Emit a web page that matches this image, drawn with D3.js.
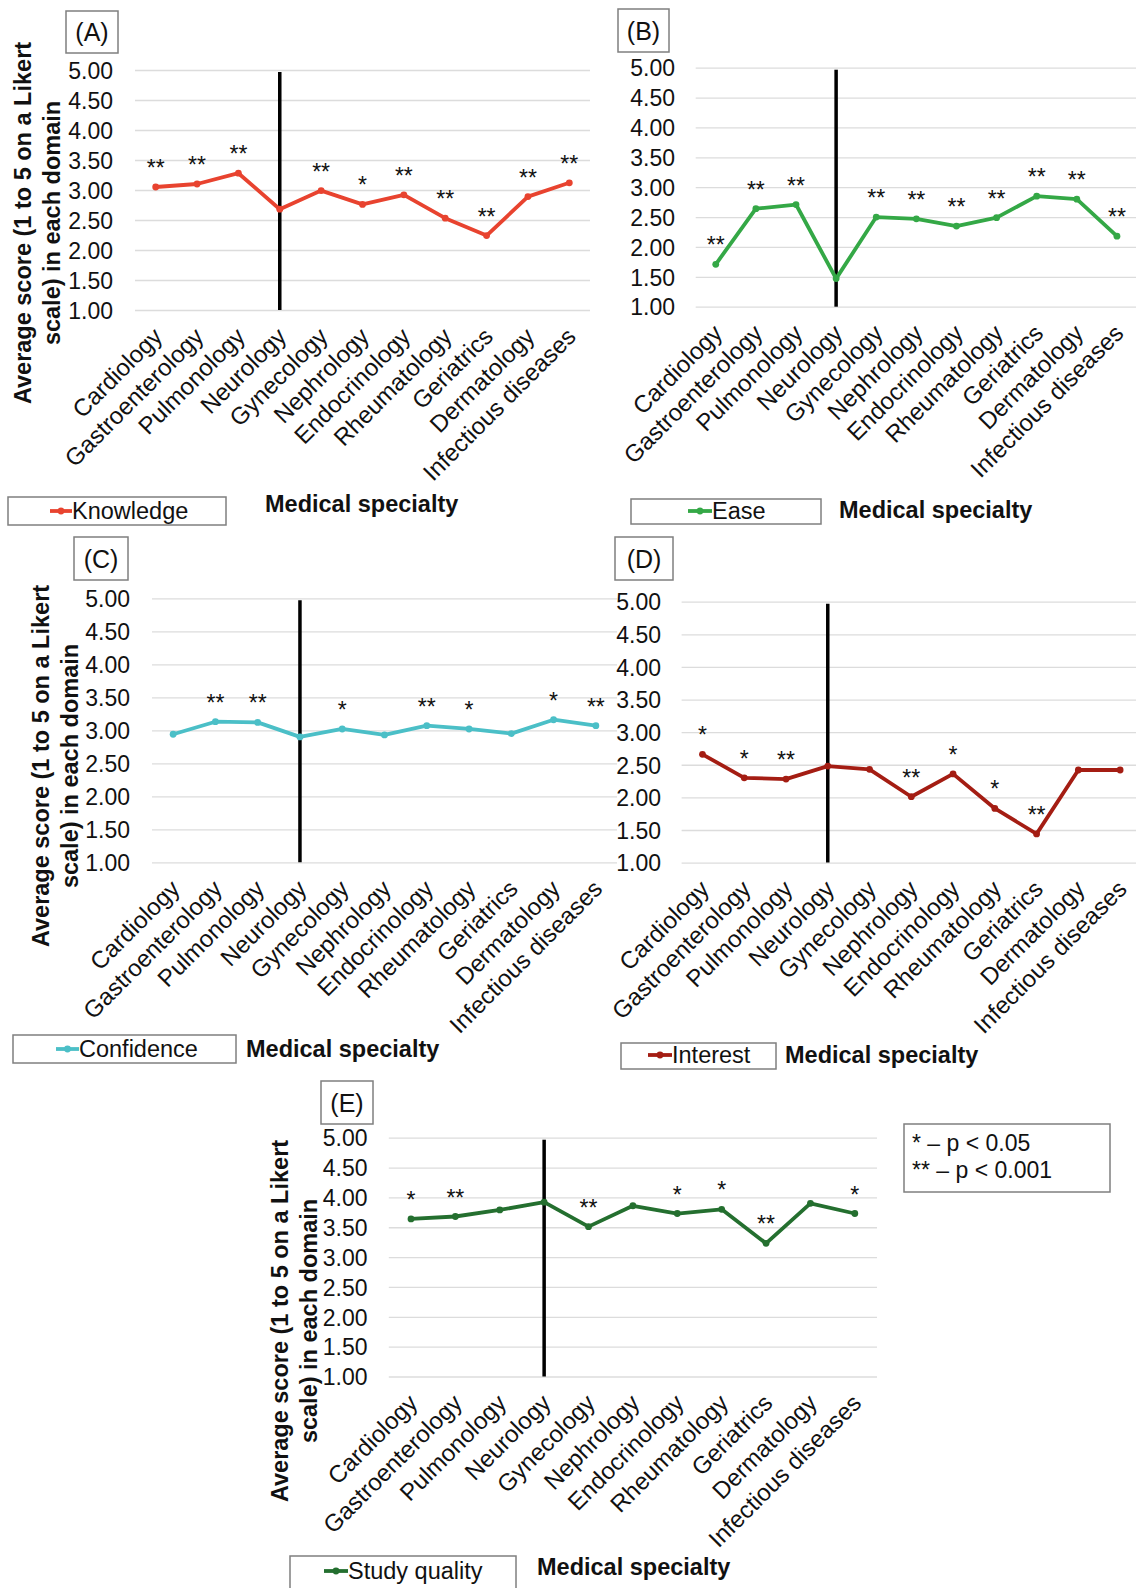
<!DOCTYPE html>
<html>
<head>
<meta charset="utf-8">
<script src="https://cdn.jsdelivr.net/npm/d3@7"></script>
<style>
  html, body { margin: 0; padding: 0; background: #fff; }
  svg { display: block; font-family: "Liberation Sans", Arial, sans-serif; }
</style>
</head>
<body>
<svg id="chart" width="1136" height="1588"></svg>
<script>
// Specialties on the x axis (same order in every panel)
const categories = ["Cardiology", "Gastroenterology", "Pulmonology", "Neurology", "Gynecology",
  "Nephrology", "Endocrinology", "Rheumatology", "Geriatrics", "Dermatology", "Infectious diseases"];

// Average Likert score per specialty, one array per domain
const knowledge    = [3.05, 3.10, 3.28, 2.68, 2.99, 2.76, 2.92, 2.53, 2.24, 2.89, 3.12];
const ease         = [1.71, 2.64, 2.71, 1.47, 2.50, 2.47, 2.35, 2.49, 2.85, 2.80, 2.18];
const confidence   = [2.94, 3.13, 3.12, 2.90, 3.02, 2.93, 3.07, 3.02, 2.95, 3.16, 3.07];
const interest     = [2.66, 2.30, 2.28, 2.48, 2.43, 2.01, 2.36, 1.83, 1.44, 2.42, 2.42];
const studyQuality = [3.64, 3.68, 3.79, 3.92, 3.51, 3.86, 3.73, 3.80, 3.23, 3.90, 3.73];

// Significance markers versus Neurology (the reference specialty)
const knowledgeSig    = ["**", "**", "**", "", "**", "*", "**", "**", "**", "**", "**"];
const easeSig         = ["**", "**", "**", "", "**", "**", "**", "**", "**", "**", "**"];
const confidenceSig   = ["", "**", "**", "", "*", "", "**", "*", "", "*", "**"];
const interestSig     = ["*", "*", "**", "", "", "**", "*", "*", "**", "", ""];
const studyQualitySig = ["*", "**", "", "", "**", "", "*", "*", "**", "", "*"];

const yTicks = [1.0, 1.5, 2.0, 2.5, 3.0, 3.5, 4.0, 4.5, 5.0];
const referenceCategory = "Neurology";

const yTitleLines = ["Average score (1 to 5 on a Likert", "scale) in each domain"];
const xTitle = "Medical specialty";
const sigLegend = ["* \u2013 p < 0.05", "** \u2013 p < 0.001"];

// Panel layout
const panels = [
  { tag: "(A)", name: "Knowledge", values: knowledge, sig: knowledgeSig, color: "#e8432f",
    left: 135, right: 590, top: 70, bottom: 310, tickRight: 113,
    box: [66, 11, 52, 42],
    yTitle: { x1: 23, x2: 52, cy: 223 },
    legend: { x: 8, y: 497, w: 218, h: 28, lx: 50, tx: 72, ty: 519 },
    xt: { x: 265, y: 512 } },
  { tag: "(B)", name: "Ease", values: ease, sig: easeSig, color: "#34a846",
    left: 695.7, right: 1137, top: 67.7, bottom: 306.7, tickRight: 675,
    box: [618, 9, 51, 43],
    yTitle: null,
    legend: { x: 631, y: 499, w: 190, h: 25, lx: 688, tx: 712, ty: 519 },
    xt: { x: 839, y: 518 } },
  { tag: "(C)", name: "Confidence", values: confidence, sig: confidenceSig, color: "#4bbfc7",
    left: 152, right: 617, top: 598.3, bottom: 862.3, tickRight: 130,
    box: [74, 537, 54, 43],
    yTitle: { x1: 41, x2: 70, cy: 766 },
    legend: { x: 13, y: 1035, w: 223, h: 28, lx: 56, tx: 79, ty: 1057 },
    xt: { x: 246, y: 1057 } },
  { tag: "(D)", name: "Interest", values: interest, sig: interestSig, color: "#a41d13",
    left: 681.6, right: 1141, top: 601.7, bottom: 862.6, tickRight: 661,
    box: [615, 537, 58, 43],
    yTitle: null,
    legend: { x: 621, y: 1043, w: 155, h: 26, lx: 648, tx: 672, ty: 1063 },
    xt: { x: 785, y: 1063 } },
  { tag: "(E)", name: "Study quality", values: studyQuality, sig: studyQualitySig, color: "#246f2f",
    left: 388.8, right: 877, top: 1137.7, bottom: 1376.5, tickRight: 367.5,
    box: [321, 1081, 52, 43],
    yTitle: { x1: 280, x2: 309, cy: 1321 },
    legend: { x: 290, y: 1556, w: 226, h: 40, lx: 324, tx: 348, ty: 1579 },
    xt: { x: 537, y: 1575 } }
];

const svg = d3.select("#chart");
svg.append("rect").attr("width", 1136).attr("height", 1588).attr("fill", "#fff");

panels.forEach(p => {
  const g = svg.append("g");
  const x = d3.scaleBand().domain(categories).range([p.left, p.right]).padding(0);
  const y = d3.scaleLinear().domain([1, 5]).range([p.bottom, p.top]);
  const cx = c => x(c) + x.bandwidth() / 2;

  // Horizontal gridlines with tick labels
  const yAxis = g.append("g")
    .attr("transform", `translate(${p.left},0)`)
    .call(d3.axisLeft(y).tickValues(yTicks).tickFormat(d3.format(".2f"))
      .tickSize(-(p.right - p.left)).tickPadding(p.left - p.tickRight));
  yAxis.select(".domain").remove();
  yAxis.selectAll(".tick line").attr("stroke", "#dcdcdc").attr("stroke-width", 1.3);
  yAxis.selectAll(".tick text").attr("font-size", 23).attr("fill", "#111")
    .attr("font-family", "'Liberation Sans', Arial, sans-serif").attr("dy", "0.36em");

  // Category labels, rotated
  const xAxis = g.append("g")
    .attr("transform", `translate(0,${p.bottom})`)
    .call(d3.axisBottom(x).tickSize(0));
  xAxis.select(".domain").remove();
  xAxis.selectAll(".tick text")
    .attr("font-size", 24).attr("fill", "#111")
    .attr("font-family", "'Liberation Sans', Arial, sans-serif")
    .attr("x", 0).attr("y", 0).attr("dy", 0)
    .attr("text-anchor", "end")
    .attr("transform", "translate(8,28) rotate(-45)");

  // Reference divider at Neurology
  g.append("line")
    .attr("x1", cx(referenceCategory)).attr("x2", cx(referenceCategory))
    .attr("y1", y(5) + 2).attr("y2", y(1))
    .attr("stroke", "#000").attr("stroke-width", 3.5);

  // Series line and markers
  const pts = categories.map((c, i) => ({ c, v: p.values[i], s: p.sig[i] }));
  g.append("path").datum(pts)
    .attr("fill", "none").attr("stroke", p.color).attr("stroke-width", 3.8)
    .attr("stroke-linejoin", "round")
    .attr("d", d3.line().x(d => cx(d.c)).y(d => y(d.v)));
  g.selectAll("circle.pt").data(pts).join("circle").attr("class", "pt")
    .attr("cx", d => cx(d.c)).attr("cy", d => y(d.v)).attr("r", 3.4).attr("fill", p.color);

  // Significance asterisks above each point
  g.selectAll("text.sig").data(pts.filter(d => d.s)).join("text").attr("class", "sig")
    .attr("x", d => cx(d.c)).attr("y", d => y(d.v) - 11)
    .attr("text-anchor", "middle").attr("font-size", 23).attr("fill", "#111")
    .text(d => d.s);

  // Panel tag box
  g.append("rect").attr("x", p.box[0]).attr("y", p.box[1]).attr("width", p.box[2]).attr("height", p.box[3])
    .attr("fill", "#fff").attr("stroke", "#7f7f7f").attr("stroke-width", 1.5);
  g.append("text").attr("x", p.box[0] + p.box[2] / 2).attr("y", p.box[1] + p.box[3] / 2)
    .attr("dy", "0.36em").attr("text-anchor", "middle").attr("font-size", 25).attr("fill", "#111")
    .text(p.tag);

  // Y axis title
  if (p.yTitle) {
    [p.yTitle.x1, p.yTitle.x2].forEach((lx, i) => {
      g.append("text")
        .attr("transform", `translate(${lx},${p.yTitle.cy}) rotate(-90)`)
        .attr("text-anchor", "middle").attr("dy", "0.36em")
        .attr("font-size", 23.5).attr("font-weight", "bold").attr("fill", "#111")
        .text(yTitleLines[i]);
    });
  }

  // Legend box
  const L = p.legend;
  g.append("rect").attr("x", L.x).attr("y", L.y).attr("width", L.w).attr("height", L.h)
    .attr("fill", "#fff").attr("stroke", "#7f7f7f").attr("stroke-width", 1.5);
  const ly = L.ty - 8;
  g.append("line").attr("x1", L.lx).attr("x2", L.tx).attr("y1", ly).attr("y2", ly)
    .attr("stroke", p.color).attr("stroke-width", 3.8);
  g.append("circle").attr("cx", (L.lx + L.tx) / 2).attr("cy", ly).attr("r", 3.4).attr("fill", p.color);
  g.append("text").attr("x", L.tx).attr("y", L.ty).attr("font-size", 23.5).attr("fill", "#111").text(p.name);

  // X axis title
  g.append("text").attr("x", p.xt.x).attr("y", p.xt.y).attr("font-size", 23.5)
    .attr("font-weight", "bold").attr("fill", "#111").text(xTitle);
});

// Significance key
const key = svg.append("g");
key.append("rect").attr("x", 904).attr("y", 1124).attr("width", 206).attr("height", 68)
  .attr("fill", "#fff").attr("stroke", "#7f7f7f").attr("stroke-width", 1.5);
key.selectAll("text").data(sigLegend).join("text")
  .attr("x", 912).attr("y", (d, i) => 1151 + i * 27)
  .attr("font-size", 23).attr("fill", "#111").text(d => d);
</script>
</body>
</html>
